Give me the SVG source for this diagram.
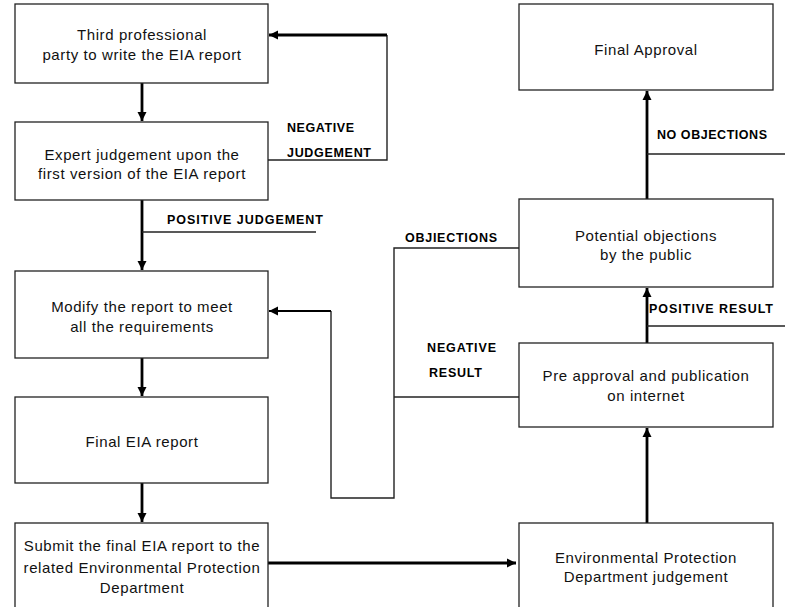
<svg xmlns="http://www.w3.org/2000/svg" width="785" height="607" viewBox="0 0 785 607">
<defs>
<style>
.box{fill:#fff;stroke:#222;stroke-width:1.3}
.t{font-family:"Liberation Sans",Arial,sans-serif;font-size:15px;letter-spacing:0.6px;fill:#111;text-anchor:middle}
.lb{font-family:"Liberation Sans",Arial,sans-serif;font-size:12.5px;font-weight:bold;fill:#000}
.thick{fill:none;stroke:#000;stroke-width:2.8}
.mid{fill:none;stroke:#000;stroke-width:2}
.thin{fill:none;stroke:#222;stroke-width:1.4}
</style>
<marker id="ah" markerUnits="userSpaceOnUse" markerWidth="10" markerHeight="10" refX="9" refY="5" orient="auto">
<path d="M0,0.5 L9,5 L0,9.5 z" fill="#000"/>
</marker>
</defs>
<g id="connectors">
<line class="thick" x1="142" y1="83" x2="142" y2="121" marker-end="url(#ah)"/>
<line class="thick" x1="142" y1="200" x2="142" y2="270" marker-end="url(#ah)"/>
<line class="thin" x1="142" y1="232" x2="316" y2="232"/>
<polyline class="thin" points="268,160 387,160 387,35"/>
<line class="thick" x1="387" y1="35" x2="269" y2="35" marker-end="url(#ah)"/>
<line class="thick" x1="142" y1="358" x2="142" y2="396" marker-end="url(#ah)"/>
<line class="thick" x1="142" y1="483" x2="142" y2="522" marker-end="url(#ah)"/>
<line class="thick" x1="268" y1="563" x2="516" y2="563" marker-end="url(#ah)"/>
<line class="thick" x1="647" y1="523" x2="647" y2="428" marker-end="url(#ah)"/>
<line class="thick" x1="647" y1="343" x2="647" y2="288" marker-end="url(#ah)"/>
<line class="thin" x1="647" y1="326" x2="785" y2="326"/>
<line class="thick" x1="647" y1="199" x2="647" y2="91" marker-end="url(#ah)"/>
<line class="thin" x1="647" y1="154" x2="785" y2="154"/>
<polyline class="thin" points="519,248 394,248 394,498 331,498 331,311"/>
<line class="mid" x1="331" y1="311" x2="269" y2="311" marker-end="url(#ah)"/>
<line class="thin" x1="519" y1="397" x2="394" y2="397"/>
<text class="lb" x="167" y="224" textLength="156" lengthAdjust="spacing">POSITIVE JUDGEMENT</text>
<text class="lb" x="287" y="132" textLength="67" lengthAdjust="spacing">NEGATIVE</text>
<text class="lb" x="287" y="157" textLength="84" lengthAdjust="spacing">JUDGEMENT</text>
<text class="lb" x="657" y="139" textLength="110" lengthAdjust="spacing">NO OBJECTIONS</text>
<text class="lb" x="405" y="242" textLength="92" lengthAdjust="spacing">OBJIECTIONS</text>
<text class="lb" x="649" y="313" textLength="124" lengthAdjust="spacing">POSITIVE RESULT</text>
<text class="lb" x="427" y="352" textLength="69" lengthAdjust="spacing">NEGATIVE</text>
<text class="lb" x="429" y="377" textLength="53" lengthAdjust="spacing">RESULT</text>
</g>
<g id="n1"><rect class="box" x="15" y="4" width="253" height="79"/>
<text class="t" x="142" y="40">Third professional</text>
<text class="t" x="142" y="60">party to write the EIA report</text></g>
<g id="n2"><rect class="box" x="15" y="122" width="253" height="78"/>
<text class="t" x="142" y="160">Expert judgement upon the</text>
<text class="t" x="142" y="179">first version of the EIA report</text></g>
<g id="n3"><rect class="box" x="15" y="271" width="253" height="87"/>
<text class="t" x="142" y="312">Modify the report to meet</text>
<text class="t" x="142" y="332">all the requirements</text></g>
<g id="n4"><rect class="box" x="15" y="397" width="253" height="86"/>
<text class="t" x="142" y="447">Final EIA report</text></g>
<g id="n5"><rect class="box" x="15" y="523" width="253" height="100"/>
<text class="t" x="142" y="551">Submit the final EIA report to the</text>
<text class="t" x="142" y="573">related Environmental Protection</text>
<text class="t" x="142" y="593">Department</text></g>
<g id="n6"><rect class="box" x="519" y="4" width="254" height="86"/>
<text class="t" x="646" y="55">Final Approval</text></g>
<g id="n7"><rect class="box" x="519" y="199" width="254" height="88"/>
<text class="t" x="646" y="241">Potential objections</text>
<text class="t" x="646" y="260">by the public</text></g>
<g id="n8"><rect class="box" x="519" y="343" width="254" height="84"/>
<text class="t" x="646" y="381">Pre approval and publication</text>
<text class="t" x="646" y="401">on internet</text></g>
<g id="n9"><rect class="box" x="519" y="523" width="254" height="100"/>
<text class="t" x="646" y="563">Environmental Protection</text>
<text class="t" x="646" y="582">Department judgement</text></g>
</svg>
